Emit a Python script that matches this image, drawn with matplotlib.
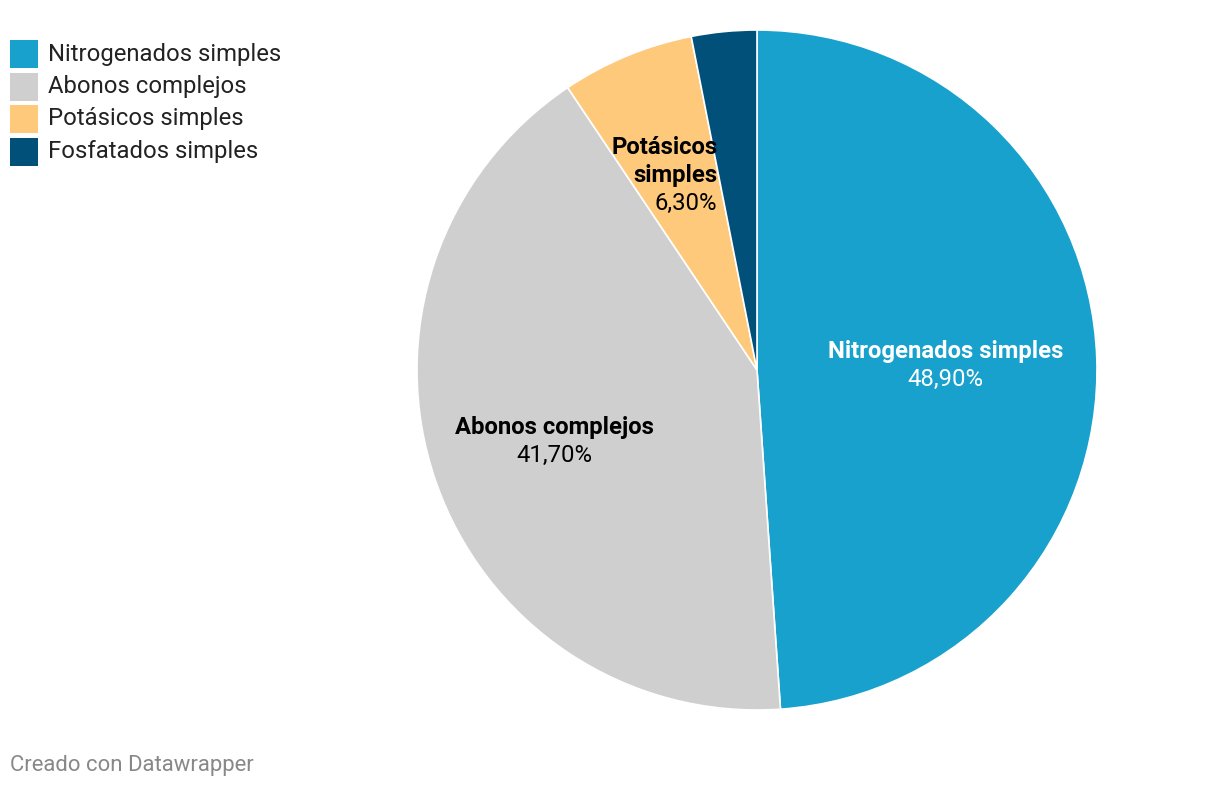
import numpy as np
import matplotlib
matplotlib.use("Agg")
import matplotlib.pyplot as plt
from matplotlib.patches import Rectangle

categories = ["Nitrogenados simples", "Abonos complejos", "Potásicos simples", "Fosfatados simples"]
values = [48.9, 41.7, 6.3, 3.1]
colors = ["#18a1cd", "#cfcfcf", "#fec97a", "#00507a"]
value_labels = ["48,90%", "41,70%", "6,30%", ""]
slice_titles = [["Nitrogenados simples"], ["Abonos complejos"], ["Potásicos", "simples"], []]
title_colors = ["white", "black", "black", None]
label_radius = [0.555, 0.63, 0.64, 0.6]
label_angle_shift = [0.0, 0.0, 3.0, 0.0]
label_ha = ["center", "center", "right", "center"]
label_halfwidth_px = [0, 0, 54, 0]

plt.rcParams['font.family'] = ['Roboto', 'DejaVu Sans']

W, H = 1220, 788
fig = plt.figure(figsize=(W / 100, H / 100), dpi=100)
fig.patch.set_facecolor("white")

cx, cy, r = 757, 370, 340
ax = fig.add_axes([(cx - r) / W, (H - cy - r) / H, 2 * r / W, 2 * r / H])
wedges, _ = ax.pie(values, colors=colors, startangle=90, counterclock=False,
                   radius=1.0, wedgeprops=dict(edgecolor="white", linewidth=1.2))
ax.set_xlim(-1, 1)
ax.set_ylim(-1, 1)
ax.set_aspect("equal")
ax.axis("off")

step = 28 / r
for w, t, v, tc, rad, sh, ha, hw in zip(wedges, slice_titles, value_labels, title_colors,
                                        label_radius, label_angle_shift, label_ha,
                                        label_halfwidth_px):
    if not t:
        continue
    ang = np.deg2rad((w.theta1 + w.theta2) / 2 + sh)
    x, y = rad * np.cos(ang) + hw / r, rad * np.sin(ang) - 2 / r
    lines = [(s, "bold") for s in t] + [(v, "normal")]
    n = len(lines)
    for k, (s, fw) in enumerate(lines):
        yy = y + ((n - 1) / 2 - k) * step
        ax.text(x, yy, s, ha=ha, va="center", fontsize=17.2,
                fontweight=fw, color=tc)

# legend
ly0 = 40
for i, (c, lab) in enumerate(zip(colors, categories)):
    top = ly0 + i * 32.5
    fig.patches.append(Rectangle((10 / W, 1 - (top + 28) / H), 28 / W, 28 / H,
                                 transform=fig.transFigure, facecolor=c, edgecolor="none"))
    fig.text(48 / W, 1 - (top + 14) / H, lab, ha="left", va="center",
             fontsize=17.2, color="#222222")

fig.text(10 / W, 1 - 766 / H, "Creado con Datawrapper", ha="left", va="center",
         fontsize=15.9, color="#888888")

fig.savefig("out.png", dpi=100, facecolor="white")
